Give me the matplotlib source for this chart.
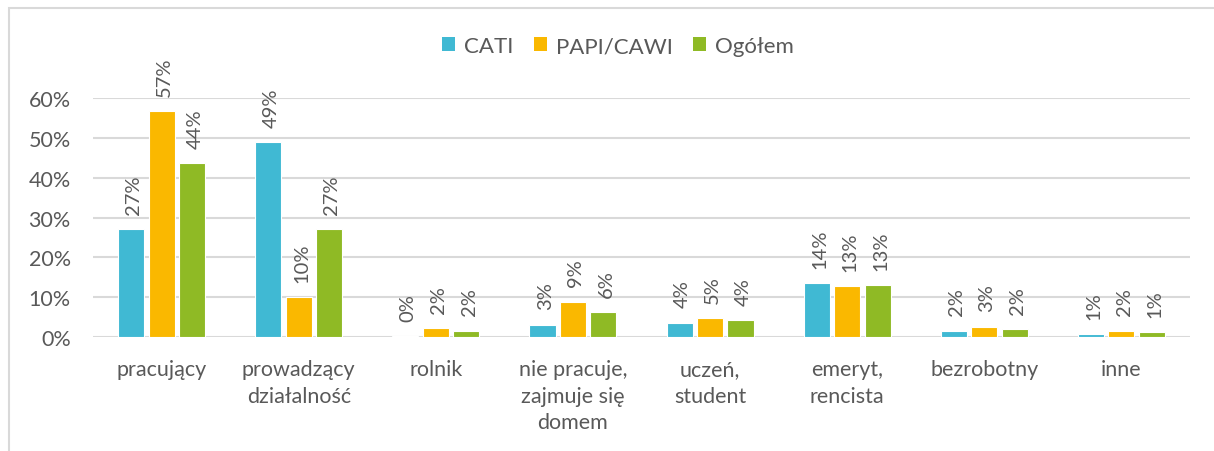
import matplotlib
matplotlib.use("Agg")
import matplotlib.pyplot as plt
from matplotlib.patches import Rectangle, Patch
import numpy as np

# Data
categories = ["pracujący", "prowadzący\ndziałalność", "rolnik",
              "nie pracuje,\nzajmuje się\ndomem", "uczeń,\nstudent",
              "emeryt,\nrencista", "bezrobotny", "inne"]
series_names = ["CATI", "PAPI/CAWI", "Ogółem"]
cati = [0.272, 0.489, 0.003, 0.031, 0.036, 0.136, 0.016, 0.008]
papi_cawi = [0.567, 0.1005, 0.022, 0.089, 0.048, 0.128, 0.026, 0.016]
ogolem = [0.437, 0.271, 0.016, 0.063, 0.043, 0.131, 0.020, 0.012]
y_ticks = [0, 0.1, 0.2, 0.3, 0.4, 0.5, 0.6]

colors = ["#40B9D3", "#FAB800", "#8FBA25"]
text_color = "#595959"
grid_color = "#D9D9D9"

plt.rcParams["font.family"] = ["Lato", "DejaVu Sans"]

W, H = 1214, 452
fig = plt.figure(figsize=(W / 100, H / 100), dpi=100)

# Outer chart frame
fig.patches.append(Rectangle((9 / W, -0.1), 1.2, 1 - 9 / H + 0.1,
                             transform=fig.transFigure, fill=False,
                             edgecolor=grid_color, linewidth=1.5))

ax = fig.add_axes([93 / W, 1 - 338 / H, (1190 - 93) / W, (338 - 99.3) / H])

x = np.arange(len(categories))
step = 0.222
width = 0.19
all_series = [cati, papi_cawi, ogolem]
for i, (vals, col) in enumerate(zip(all_series, colors)):
    pos = x + (i - 1) * step
    ax.bar(pos, vals, width=width, color=col, edgecolor="white",
           linewidth=0.8, zorder=3)
    for xp, v in zip(pos, vals):
        ax.annotate(f"{v:.0%}", (xp, v), xytext=(2, 11),
                    textcoords="offset points", rotation=90,
                    ha="center", va="bottom", fontsize=14.5,
                    color=text_color, annotation_clip=False)

ax.set_xlim(-0.5, len(categories) - 0.5)
ax.set_ylim(0, 0.6)
ax.set_yticks(y_ticks)
ax.set_yticklabels([f"{t:.0%}" for t in y_ticks])
ax.set_xticks(x)
ax.set_xticklabels(categories, linespacing=1.4)

ax.grid(axis="y", color=grid_color, linewidth=1.5, zorder=0)
for s in ax.spines.values():
    s.set_visible(False)
ax.tick_params(axis="both", length=0, colors=text_color, labelsize=15.5)
ax.tick_params(axis="y", pad=16)
ax.tick_params(axis="x", pad=16)

handles = [Patch(facecolor=c, edgecolor="none") for c in colors]
fig.legend(handles, series_names, loc="center", ncol=3,
           bbox_to_anchor=(618 / W, 1 - 47 / H), frameon=False,
           fontsize=16, handlelength=0.6, handleheight=0.6,
           handletextpad=0.4, columnspacing=0.9, labelcolor=text_color)

fig.savefig("out.png", dpi=100)
